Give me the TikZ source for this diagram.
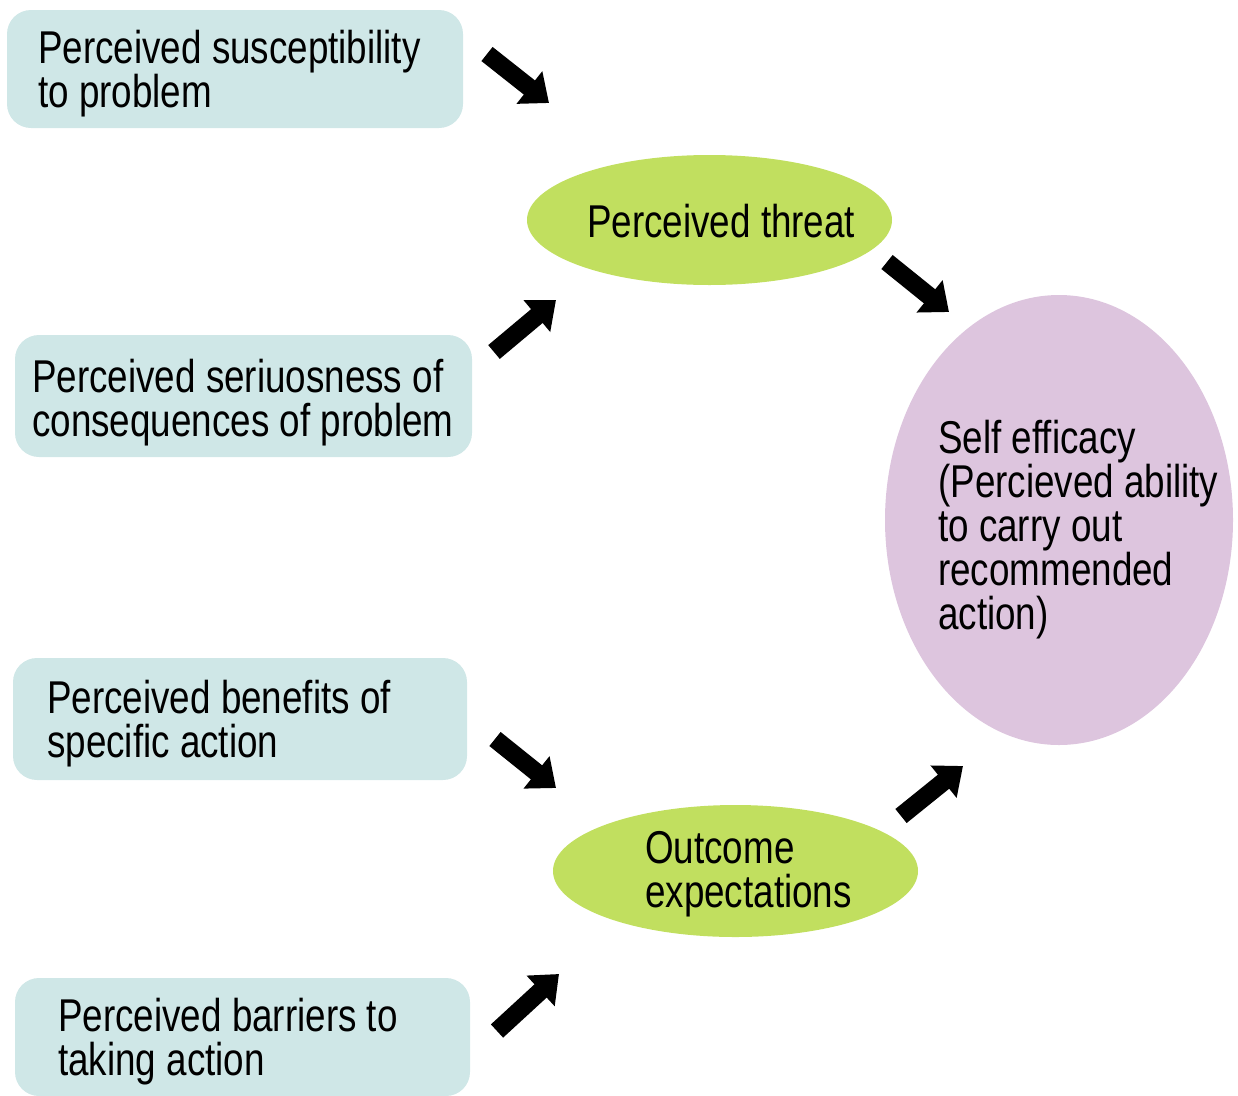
\documentclass[tikz,border=0pt]{standalone}
\usepackage{fontspec}
\setmainfont[FakeStretch=0.80]{Liberation Sans}
\usetikzlibrary{arrows.meta,shapes.geometric}

\definecolor{boxfill}{RGB}{207,231,231}
\definecolor{threatfill}{RGB}{193,223,95}
\definecolor{selffill}{RGB}{221,197,222}

\tikzset{
  factor/.style={fill=boxfill, rounded corners=24pt, inner sep=0pt},
  oval/.style={ellipse, inner sep=0pt},
  % placed at the baseline of the last line
  label/.style={inner sep=0pt, anchor=base west, align=left,
    font=\fontsize{46pt}{44pt}\selectfont},
  blockarrow/.style={line width=18pt, black,
    -{Triangle[width=40pt,length=25pt]}},
}

\begin{document}
\begin{tikzpicture}[x=1pt,y=-1pt]
\useasboundingbox (0,0) rectangle (1238,1095);

% factor boxes on the left
\node[factor, minimum width=456pt, minimum height=118pt] (suscbox) at (235,69) {};
\node[factor, minimum width=457pt, minimum height=122pt] (seribox) at (243.5,396) {};
\node[factor, minimum width=454pt, minimum height=122pt] (benebox) at (240,719) {};
\node[factor, minimum width=455pt, minimum height=118pt] (barrbox) at (242.5,1037) {};

% intermediate and final constructs
\node[oval, fill=threatfill, minimum width=365pt, minimum height=130pt] (threat) at (709.5,220) {};
\node[oval, fill=threatfill, minimum width=365pt, minimum height=132pt] (outcome) at (735.5,871) {};
\node[oval, fill=selffill, minimum width=348pt, minimum height=450pt] (self) at (1059,520) {};

% texts
\node[label] (susctext) at (38,107.5) {Perceived susceptibility\\to problem};
\node[label] (seritext) at (32,436) {Perceived seriuosness of\\consequences of problem};
\node[label] (benetext) at (47,757) {Perceived benefits of\\specific action};
\node[label] (barrtext) at (58,1075) {Perceived barriers to\\taking action};
\node[label] (threattext) at (587,237) {Perceived threat};
\node[label] (outcometext) at (645,907.5) {Outcome\\expectations};
\node[label] (selftext) at (938,629) {Self efficacy\\(Percieved ability\\to carry out\\recommended\\action)};

% arrow ends
\coordinate (a1s) at (487,54);   \coordinate (a1e) at (549,103);
\coordinate (a2s) at (494,352);  \coordinate (a2e) at (556,300);
\coordinate (a3s) at (887,262);  \coordinate (a3e) at (949,312);
\coordinate (a4s) at (495,739);  \coordinate (a4e) at (556,788);
\coordinate (a5s) at (901,816);  \coordinate (a5e) at (963,766);
\coordinate (a6s) at (497,1031); \coordinate (a6e) at (559,974);

\draw[blockarrow] (a1s) -- (a1e);
\draw[blockarrow] (a2s) -- (a2e);
\draw[blockarrow] (a3s) -- (a3e);
\draw[blockarrow] (a4s) -- (a4e);
\draw[blockarrow] (a5s) -- (a5e);
\draw[blockarrow] (a6s) -- (a6e);
\end{tikzpicture}
\end{document}
